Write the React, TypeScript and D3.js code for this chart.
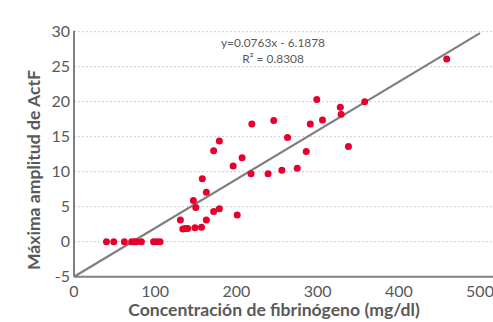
import React from 'react';
import * as d3 from 'd3';

// fibrinogen (mg/dl) vs max ActF amplitude
const fibX = [40, 49, 62, 71, 74, 77, 83, 98, 102, 106,
  131, 134, 137, 140, 149, 157, 147, 150, 158, 163, 163, 172, 179, 172, 179,
  196, 207, 201, 218, 219, 239, 246, 256, 263, 275, 286, 291, 299, 306, 328, 329, 338, 358, 459];
const ampY = [0, 0, 0, 0, 0, 0, 0, 0, 0, 0,
  3.1, 1.8, 1.9, 1.9, 2.0, 2.05, 5.9, 4.9, 9.0, 7.05, 3.1, 4.3, 4.7, 13.0, 14.4,
  10.8, 12.0, 3.8, 9.7, 16.8, 9.7, 17.3, 10.2, 14.9, 10.5, 12.9, 16.8, 20.3, 17.4, 19.2, 18.2, 13.6, 20.0, 26.1];

// trendline as drawn in the picture
const trendX = [0, 500];
const trendY = [-5, 29.8];

const yTicks = [-5, 0, 5, 10, 15, 20, 25, 30];
const xTicks = [0, 100, 200, 300, 400, 500];

const FONT = 'Lato, "Open Sans", sans-serif';
const GREY = '#595959';

export default function App() {
  const x = d3.scaleLinear().domain([0, 500]).range([74, 480]);
  const y = d3.scaleLinear().domain([-5, 30]).range([276.7, 31.7]);
  const line = d3.line<number>()
    .x(function (d, i) { return x(trendX[i]); })
    .y(function (d) { return y(d); });

  return (
    <svg width={493} height={322} style={{ position: 'absolute', left: 0, top: 0 }} fontFamily={FONT}>
      <rect width={493} height={322} fill="#fff" />
      {/* grid */}
      {yTicks.filter(function (t) { return t > -5; }).map(function (t) {
        return <line key={'g' + t} x1={x(0)} x2={493} y1={y(t)} y2={y(t)}
          stroke="#cccccc" strokeWidth={1} strokeDasharray="2,2" />;
      })}
      {/* axes */}
      <line x1={x(0)} x2={493} y1={y(-5)} y2={y(-5)} stroke="#808080" strokeWidth={2} />
      <line x1={x(0)} x2={x(0)} y1={y(30) - 1} y2={y(-5)} stroke="#808080" strokeWidth={2} />
      {yTicks.map(function (t) {
        return <text key={'y' + t} x={70} y={y(t)} dy="0.36em" textAnchor="end" fontSize={16} fill={GREY}>{t}</text>;
      })}
      {xTicks.map(function (t) {
        return <text key={'x' + t} x={x(t)} y={297} textAnchor="middle" fontSize={16} fill={GREY}>{t}</text>;
      })}
      {/* trend */}
      <path d={line(trendY) || ''} fill="none" stroke="#7f7f7f" strokeWidth={2.2} />
      {/* points */}
      {fibX.map(function (v, i) {
        return <circle key={'p' + i} cx={x(v)} cy={y(ampY[i])} r={3.5} fill="#e8002d" />;
      })}
      <text x={273} y={47} textAnchor="middle" fontSize={11.9} fill={GREY}>y=0.0763x - 6.1878</text>
      <text x={273} y={63} textAnchor="middle" fontSize={11.9} fill={GREY}>R² = 0.8308</text>
      <text x={274} y={316} textAnchor="middle" fontSize={17.6} fontWeight="bold" fill={GREY}>Concentración de fibrinógeno (mg/dl)</text>
      <text transform="translate(40,170) rotate(-90)" textAnchor="middle" fontSize={17.6} fontWeight="bold" fill={GREY}>Máxima amplitud de ActF</text>
    </svg>
  );
}
